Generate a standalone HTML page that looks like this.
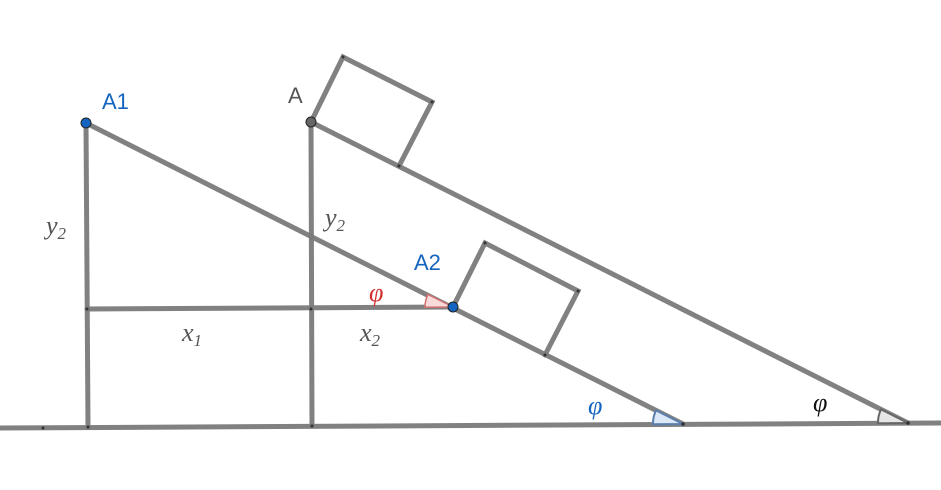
<!DOCTYPE html>
<html><head><meta charset="utf-8"><style>
html,body{margin:0;padding:0;background:#fff;width:941px;height:490px;overflow:hidden}
svg{display:block}
.l{stroke:#7a7a7a;stroke-width:5;stroke-linecap:round;fill:none;opacity:0.95}
.lbl{font-family:"Liberation Sans",sans-serif;font-size:22px}
.m{font-family:"Liberation Serif",serif;font-style:italic;font-size:26px;fill:#555}
.sub{font-size:17px}
</style></head><body>
<svg width="941" height="490" viewBox="0 0 941 490">
<g><line class="l" x1="0" y1="428" x2="941" y2="423"/></g>
<g>
<line class="l" x1="86" y1="123" x2="88" y2="427"/>
<line class="l" x1="311" y1="122" x2="312" y2="426"/>
</g>
<g><line class="l" x1="87" y1="309" x2="453" y2="307"/></g>
<g><line class="l" x1="86" y1="123" x2="683" y2="424"/></g>
<g><line class="l" x1="311" y1="122" x2="908" y2="423"/></g>
<g><polyline class="l" points="311,122 343,57 432,102 399,166"/></g>
<g><polyline class="l" points="453,307 485,243 578,291 545,355"/></g>
<g>
<path d="M683,424 L653,424.2 A30,30 0 0 1 656,410.4 Z" fill="#dce8f7" stroke="#5a7fae" stroke-width="2"/>
<path d="M908,423 L878,423.2 A30,30 0 0 1 881,409.4 Z" fill="#e6e6e6" stroke="#666" stroke-width="2"/>
<path d="M453,307 L425,307.2 A28,28 0 0 1 428,294.4 Z" fill="#f8dada" stroke="#d07070" stroke-width="1.5"/>
</g>
<g fill="#333">
<circle cx="88" cy="427" r="1.5"/><circle cx="312" cy="426" r="1.5"/><circle cx="683" cy="424" r="1.8"/><circle cx="908" cy="423" r="1.8"/>
<circle cx="87" cy="309" r="1.5"/><circle cx="311" cy="309" r="1.5"/><circle cx="399" cy="166" r="1.5"/><circle cx="545" cy="355" r="1.5"/>
<circle cx="343" cy="57" r="1.5"/><circle cx="432" cy="102" r="1.5"/><circle cx="485" cy="243" r="1.5"/><circle cx="578" cy="291" r="1.5"/><circle cx="43" cy="428" r="1.5"/>
</g>
<circle cx="86" cy="123" r="5" fill="#1565c0" stroke="#222" stroke-width="1"/>
<circle cx="311" cy="122" r="5" fill="#666" stroke="#222" stroke-width="1"/>
<circle cx="453" cy="307" r="5" fill="#1565c0" stroke="#222" stroke-width="1"/>
<text class="lbl" x="102" y="109" fill="#1565c0">A1</text>
<text class="lbl" x="288" y="103" fill="#555">A</text>
<text class="lbl" x="414" y="270" fill="#1565c0">A2</text>
<text class="m" x="46" y="234">y<tspan class="sub" dy="5">2</tspan></text>
<text class="m" x="325" y="226">y<tspan class="sub" dy="5">2</tspan></text>
<text class="m" x="182" y="341">x<tspan class="sub" dy="5">1</tspan></text>
<text class="m" x="360" y="341">x<tspan class="sub" dy="5">2</tspan></text>
<text class="m" x="369" y="301" style="fill:#d32f2f">φ</text>
<text class="m" x="588" y="414" style="fill:#1565c0">φ</text>
<text class="m" x="813" y="411" style="fill:#111">φ</text>
</svg>
</body></html>
